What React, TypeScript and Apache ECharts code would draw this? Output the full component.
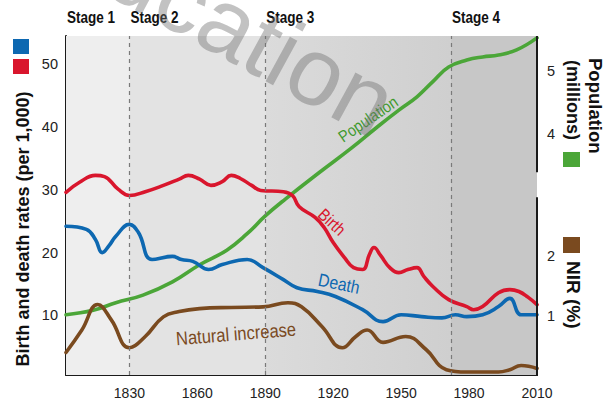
import React, { useEffect, useRef } from "react";
import * as echarts from "echarts";

// ---------- data ----------
const birthRate: [number, number][] = [
  [1802, 29.6], [1808, 31.2], [1815, 32.3], [1819, 32.1], [1825, 30.1], [1830, 29.1],
  [1837, 29.7], [1845, 30.7], [1852, 31.7], [1856, 32.3], [1861, 31.7], [1866, 30.7],
  [1871, 31.3], [1875, 32.3], [1879, 31.8], [1884, 30.7], [1888, 29.9], [1898, 29.7],
  [1902, 29.1], [1905, 27.3], [1912, 25.6], [1916, 24.0], [1920, 21.6], [1925, 19.2],
  [1929, 17.6], [1933, 17.3], [1936, 19.7], [1938, 20.8], [1941, 19.5], [1945, 17.6],
  [1949, 16.8], [1953, 17.3], [1957, 17.6], [1960, 16.2], [1964, 14.6], [1971, 12.5],
  [1979, 11.4], [1982, 10.9], [1986, 11.4], [1993, 13.6], [1998, 14.1], [2002, 13.8],
  [2006, 12.9], [2010, 11.7],
];
const deathRate: [number, number][] = [
  [1802, 24.2], [1811, 23.7], [1815, 22.1], [1818, 20.0], [1821, 21.1], [1824, 22.6],
  [1830, 24.5], [1834, 23.2], [1840, 18.9], [1849, 19.4], [1853, 18.9], [1858, 18.6],
  [1865, 17.3], [1871, 18.1], [1882, 18.9], [1889, 17.6], [1898, 15.7], [1904, 14.4],
  [1913, 13.8], [1921, 13.0], [1933, 10.9], [1942, 9.0], [1950, 10.1], [1959, 9.8],
  [1968, 9.6], [1974, 10.1], [1979, 9.8], [1986, 10.1], [1993, 11.4], [1998, 12.7],
  [2003, 10.1], [2010, 10.1],
];
const population: [number, number][] = [
  [1802, 1.15], [1814, 1.22], [1824, 1.34], [1836, 1.46], [1849, 1.67], [1861, 1.94],
  [1873, 2.17], [1882, 2.43], [1890, 2.71], [1899, 2.98], [1914, 3.4], [1928, 3.78],
  [1940, 4.13], [1949, 4.38], [1957, 4.59], [1964, 4.83], [1971, 5.06], [1979, 5.17],
  [1986, 5.22], [1993, 5.25], [2001, 5.33], [2010, 5.52],
];
const naturalIncrease: [number, number][] = [
  [1802, 0.38], [1809, 0.76], [1816, 1.19], [1822, 0.93], [1830, 0.46], [1837, 0.65],
  [1845, 0.98], [1852, 1.07], [1861, 1.12], [1875, 1.14], [1889, 1.15], [1900, 1.22],
  [1906, 1.15], [1915, 0.82], [1924, 0.46], [1930, 0.65], [1935, 0.76], [1942, 0.55],
  [1952, 0.65], [1961, 0.43], [1970, 0.09], [1979, 0.05], [1993, 0.05], [1998, 0.09],
  [2003, 0.16], [2010, 0.11],
];

const stageNames = ["Stage 1", "Stage 2", "Stage 3", "Stage 4"];
const stageStarts = [1802, 1830, 1890, 1972];
const stageEnd = 2010;
const xLabelValues = [1830, 1860, 1890, 1920, 1950, 1980, 2010];
const xTickValues = [1860, 1890, 1920, 1950, 1980];
const rateTicks = [10, 20, 30, 40, 50];
const popTicks = [4, 5];
const nirTicks = [1, 2];

const C_BIRTH = "#d9162d";
const C_DEATH = "#0d68b1";
const C_POP = "#4ba638";
const C_NIR = "#7a4a1f";

const SANS = "'Liberation Sans', Arial, Helvetica, sans-serif";

function txt(text: string, x: number, y: number, o: any = {}) {
  return {
    type: "text",
    x,
    y,
    rotation: o.rotation || 0,
    scaleX: o.scaleX || 1,
    z: o.z || 50,
    silent: true,
    style: {
      text,
      fill: o.fill || "#111",
      fontSize: o.fontSize || 16,
      fontFamily: o.fontFamily || SANS,
      fontWeight: o.fontWeight || "normal",
      textAlign: o.align || "center",
      align: o.align || "center",
      textVerticalAlign: "middle",
      verticalAlign: "middle",
    },
  };
}

export default function App() {
  const ref = useRef<HTMLDivElement>(null);
  useEffect(() => {
    if (!ref.current) return;
    const chart = echarts.init(ref.current, undefined, { renderer: "svg" });
    const stageColors = [
      "#eeeeee",
      "#e3e3e3",
      new echarts.graphic.LinearGradient(0, 0, 1, 0, [
        { offset: 0, color: "#dbdbdb" },
        { offset: 1, color: "#cfcfcf" },
      ]),
      "#c7c7c7",
    ];
    const areas = stageStarts.map((s, i) => [
      { xAxis: s, itemStyle: { color: stageColors[i] } },
      { xAxis: i < stageStarts.length - 1 ? stageStarts[i + 1] : stageEnd },
    ]);
    const lineSeries = (name: string, data: any, color: string, yAxisIndex: number) => ({
      name,
      type: "line",
      data,
      yAxisIndex,
      smooth: 0.45,
      symbol: "none",
      z: 3,
      lineStyle: { color, width: 3.6, cap: "round", join: "round" },
    });
    const plain = (v: number) => String(v);

    const option: any = {
      animation: false,
      grid: { left: 66, right: 74, top: 36, bottom: 29 },
      xAxis: {
        type: "value",
        min: 1802,
        max: 2010,
        axisLine: { show: true, lineStyle: { color: "#1a1a1a", width: 2 } },
        axisTick: { show: true, inside: true, length: 7, customValues: xTickValues, lineStyle: { color: "#333", width: 1.2 } },
        axisLabel: { customValues: xLabelValues, formatter: plain, color: "#222", fontSize: 14, fontFamily: SANS, margin: 11 },
        splitLine: { show: false },
      },
      yAxis: [
        {
          type: "value",
          min: 0.5,
          max: 54.5,
          axisLine: { show: true, lineStyle: { color: "#1a1a1a", width: 2 } },
          axisTick: { show: true, inside: true, length: 7, customValues: rateTicks, lineStyle: { color: "#333", width: 1.2 } },
          axisLabel: { customValues: rateTicks, formatter: plain, color: "#222", fontSize: 14.5, fontFamily: SANS, margin: 8 },
          splitLine: { show: false },
        },
        {
          type: "value",
          position: "right",
          min: 0.2,
          max: 5.55,
          axisLine: { show: false },
          axisTick: { show: true, inside: true, length: 7, customValues: popTicks, lineStyle: { color: "#333", width: 1.2 } },
          axisLabel: { customValues: popTicks, formatter: plain, color: "#222", fontSize: 14.5, fontFamily: SANS, margin: 10 },
          splitLine: { show: false },
        },
        {
          type: "value",
          position: "right",
          min: 0,
          max: 5.72,
          axisLine: { show: false },
          axisTick: { show: true, inside: true, length: 7, customValues: nirTicks, lineStyle: { color: "#333", width: 1.2 } },
          axisLabel: { customValues: nirTicks, formatter: plain, color: "#222", fontSize: 14.5, fontFamily: SANS, margin: 10 },
          splitLine: { show: false },
        },
      ],
      series: [
        {
          name: "stages",
          type: "line",
          data: [],
          z: 1,
          silent: true,
          markArea: { silent: true, data: areas, label: { show: false } },
          markLine: {
            silent: true,
            symbol: "none",
            label: { show: false },
            lineStyle: { color: "#7a7a7a", type: [4, 4], width: 1.2 },
            data: stageStarts.slice(1).map((s) => ({ xAxis: s })),
          },
        },
        lineSeries("Population", population, C_POP, 1),
        lineSeries("Natural increase", naturalIncrease, C_NIR, 2),
        lineSeries("Death", deathRate, C_DEATH, 0),
        lineSeries("Birth", birthRate, C_BIRTH, 0),
      ],
    };
    chart.setOption(option);

    const px = (x: number, y: number, yi: number) =>
      chart.convertToPixel({ xAxisIndex: 0, yAxisIndex: yi }, [x, y]) as number[];

    const top = px(stageEnd, 5.55, 1);
    const upperEnd = px(stageEnd, 3.4, 1);
    const lowTop = px(stageEnd, 3.0, 2);
    const lowBot = px(stageEnd, 0, 2);

    const graphics: any[] = [
      { type: "line", z: 40, silent: true, shape: { x1: top[0], y1: top[1], x2: upperEnd[0], y2: upperEnd[1] }, style: { stroke: "#1a1a1a", lineWidth: 2 } },
      { type: "line", z: 40, silent: true, shape: { x1: lowTop[0], y1: lowTop[1], x2: lowBot[0], y2: lowBot[1] + 1 }, style: { stroke: "#1a1a1a", lineWidth: 2 } },
      // legend squares
      { type: "rect", silent: true, shape: { x: 13, y: 39, width: 16, height: 15 }, style: { fill: C_DEATH } },
      { type: "rect", silent: true, shape: { x: 13, y: 59, width: 16, height: 15 }, style: { fill: C_BIRTH } },
      { type: "rect", silent: true, shape: { x: 563, y: 152, width: 17, height: 15 }, style: { fill: C_POP } },
      { type: "rect", silent: true, shape: { x: 563, y: 237, width: 17, height: 16 }, style: { fill: C_NIR } },
      // axis titles
      txt("Birth and death rates (per 1,000)", 23, 229, { rotation: Math.PI / 2, fontSize: 18, fontWeight: "bold" }),
      txt("Population", 595, 58, { rotation: -Math.PI / 2, fontSize: 18.5, fontWeight: "bold", align: "left" }),
      txt("(millions)", 573, 60, { rotation: -Math.PI / 2, fontSize: 18, fontWeight: "bold", align: "left" }),
      txt("NIR (%)", 573, 261, { rotation: -Math.PI / 2, fontSize: 19, fontWeight: "bold", align: "left" }),
      // in-plot labels
      txt("Population", 368, 119, { rotation: 0.6, fontSize: 16.5, scaleX: 0.87, fill: "#3f9a2e" }),
      txt("Birth", 332, 222, { rotation: -0.75, fontSize: 17, scaleX: 0.87, fill: C_BIRTH }),
      txt("Death", 339, 284, { rotation: -0.2, fontSize: 18, scaleX: 0.87, fill: C_DEATH }),
      txt("Natural increase", 236, 334, { rotation: 0.08, fontSize: 19, scaleX: 0.87, fill: C_NIR }),
      // watermark
      txt("Education", 201, 8, { rotation: -0.5, fontSize: 96, fill: "rgba(110,110,110,0.42)", z: 60 }),
    ];
    stageNames.forEach((name, i) => {
      const p = px(stageStarts[i], 0, 0);
      graphics.push(txt(name, p[0] + 1, 17, { fontSize: 16.5, scaleX: 0.82, fontWeight: "bold", align: "left" }));
    });
    chart.setOption({ graphic: graphics });

    return () => chart.dispose();
  }, []);

  return (
    <div
      ref={ref}
      style={{ position: "fixed", left: 0, top: 0, width: 611, height: 404, background: "#fff" }}
    />
  );
}
